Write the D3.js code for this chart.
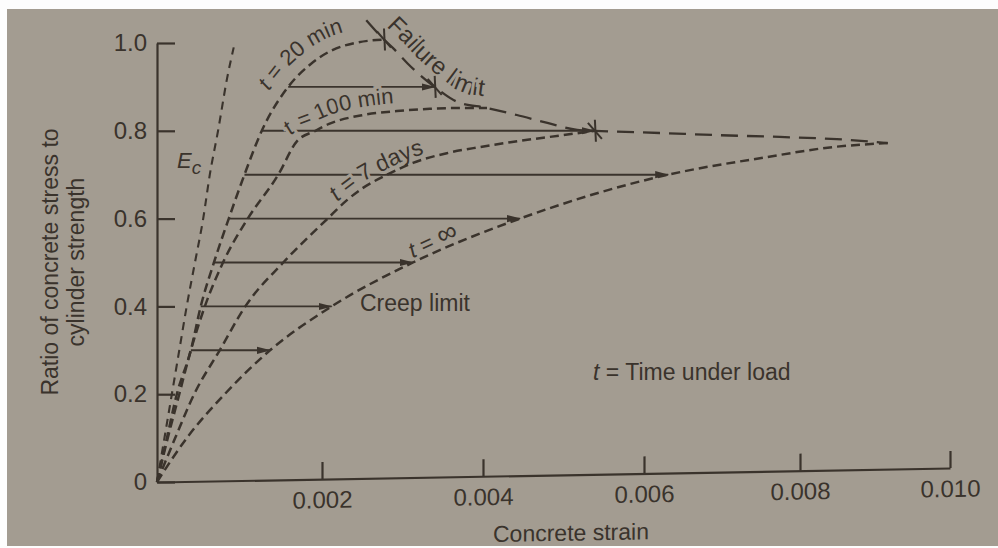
<!DOCTYPE html>
<html>
<head>
<meta charset="utf-8">
<script src="https://cdn.jsdelivr.net/npm/d3@7"></script>
<style>
  html, body { margin: 0; padding: 0; background: #fdfdfd; }
  svg { display: block; }
</style>
</head>
<body>
<svg id="chart" width="998" height="548"></svg>
<script>
// ---- axis ticks ----
const xTicks = [0.002, 0.004, 0.006, 0.008, 0.010];
const yTicks = [0, 0.2, 0.4, 0.6, 0.8, 1.0];

// ---- stress-strain curves: strain and stress/strength ratio ----
const ecStrain = [0, 0.00009, 0.00018, 0.00027, 0.00036, 0.00046, 0.00056, 0.00064, 0.00074, 0.00085, 0.00093];
const ecRatio  = [0, 0.1, 0.2, 0.3, 0.4, 0.5, 0.6, 0.7, 0.8, 0.92, 0.99];

const min20Strain = [0, 0.00012, 0.00024, 0.00041, 0.00053, 0.00069, 0.00087, 0.00106, 0.00127, 0.00159, 0.00185, 0.00213, 0.00241, 0.00277];
const min20Ratio  = [0, 0.1, 0.2, 0.3, 0.4, 0.5, 0.6, 0.7, 0.8, 0.9, 0.95, 0.984, 1.0, 1.008];

const min100Strain = [0, 0.00013, 0.00027, 0.00041, 0.00058, 0.0008, 0.0011, 0.00147, 0.0017, 0.00192, 0.00208, 0.00251, 0.00293, 0.00334, 0.00375, 0.00405];
const min100Ratio  = [0, 0.1, 0.2, 0.3, 0.4, 0.5, 0.6, 0.7, 0.777, 0.8, 0.815, 0.836, 0.845, 0.85, 0.852, 0.852];

const days7Strain = [0, 0.00022, 0.00045, 0.00076, 0.00107, 0.00153, 0.00207, 0.00231, 0.00251, 0.00281, 0.00313, 0.00355, 0.00396, 0.00434, 0.00499, 0.00539];
const days7Ratio  = [0, 0.1, 0.2, 0.3, 0.4, 0.5, 0.6, 0.642, 0.67, 0.7, 0.727, 0.749, 0.763, 0.774, 0.79, 0.8];

const infStrain = [0, 0.00036, 0.00082, 0.00137, 0.00212, 0.00313, 0.00446, 0.00631, 0.00757, 0.00844, 0.00917];
const infRatio  = [0, 0.1, 0.2, 0.3, 0.4, 0.5, 0.6, 0.7, 0.74, 0.763, 0.772];

// failure limit envelope
const failStrain = [0.00255, 0.00277, 0.00288, 0.00306, 0.0034, 0.00368, 0.00405, 0.00442, 0.0048, 0.00517, 0.00539, 0.0062, 0.00697, 0.00774, 0.00849, 0.00917];
const failRatio  = [1.052, 1.008, 0.989, 0.954, 0.9, 0.866, 0.852, 0.836, 0.818, 0.802, 0.8, 0.795, 0.79, 0.786, 0.781, 0.772];

// failure points marked with a cross
const failMarkStrain = [0.00277, 0.0034, 0.00539];
const failMarkRatio  = [1.008, 0.9, 0.8];

// creep at constant stress: from the 20 min curve to the limit
const creepLevel = [0.3, 0.4, 0.5, 0.6, 0.7, 0.8, 0.9];
const creepFrom  = [0.00041, 0.00053, 0.00069, 0.00087, 0.00106, 0.00127, 0.00159];
const creepTo    = [0.00137, 0.00212, 0.00313, 0.00446, 0.00631, 0.00539, 0.0034];

// ---- drawing ----
const W = 998, H = 548;
const ink = "#3a332c";
const paper = "#a39c91";
const FONT = "'Liberation Sans', Arial, Helvetica, sans-serif";

const svg = d3.select("#chart");
svg.append("rect").attr("width", W).attr("height", H).attr("fill", "#fdfdfd");
svg.append("rect").attr("x", 7).attr("y", 9).attr("width", W - 7).attr("height", H - 11).attr("fill", paper);

const x = d3.scaleLinear()
  .domain([0].concat(xTicks))
  .range([157, 322, 483, 644, 800, 950]);
const y = d3.scaleLinear().domain([0, 1]).range([482, 43]);

const defs = svg.append("defs");
defs.append("marker")
  .attr("id", "head")
  .attr("viewBox", "0 -5 14 10")
  .attr("refX", 13).attr("refY", 0)
  .attr("markerWidth", 14).attr("markerHeight", 10)
  .attr("markerUnits", "userSpaceOnUse")
  .attr("orient", "auto")
  .append("path").attr("d", "M0,-3.6L14,0L0,3.6Z").attr("fill", ink);

function styleAxis(g, size) {
  g.attr("font-family", null).attr("font-size", null);
  g.select(".domain").attr("stroke", ink).attr("stroke-width", 2.2);
  g.selectAll(".tick line").attr("stroke", ink).attr("stroke-width", 2.2);
  g.selectAll(".tick text").attr("fill", ink).attr("font-family", FONT).attr("font-size", size);
}

// y axis
const gy = svg.append("g").attr("transform", "translate(157,0)")
  .call(d3.axisLeft(y).tickValues(yTicks)
    .tickFormat(d => d === 0 ? "0" : d3.format(".1f")(d))
    .tickSizeInner(-18).tickSizeOuter(0).tickPadding(10));
styleAxis(gy, 24);

// x axis (baseline rises slightly towards the right)
const rise = 14 / 793;
const tilt = Math.atan(rise) * 180 / Math.PI;
const gx = svg.append("g")
  .attr("transform", `translate(0,${482 + 157 * rise}) skewY(${-tilt})`)
  .call(d3.axisBottom(x).tickValues(xTicks).tickFormat(d3.format(".3f"))
    .tickSizeInner(-17).tickSizeOuter(0).tickPadding(12));
styleAxis(gx, 24);
gx.append("text").attr("x", 571).attr("y", 66).attr("text-anchor", "middle")
  .attr("font-family", FONT).attr("font-size", 23).attr("fill", ink)
  .text("Concrete strain");

// y axis title
const yTitle = svg.append("text").attr("transform", "translate(0,262) rotate(-90)")
  .attr("text-anchor", "middle").attr("font-family", FONT).attr("font-size", 23).attr("fill", ink);
yTitle.append("tspan").attr("x", 0).attr("y", 58).text("Ratio of concrete stress to");
yTitle.append("tspan").attr("x", 0).attr("y", 84).text("cylinder strength");

const gArrows = svg.append("g");
const gLabels = svg.append("g");
const gCurves = svg.append("g");

const pairs = (s, r) => s.map((v, i) => [v, r[i]]);
const line = d3.line().x(d => x(d[0])).y(d => y(d[1])).curve(d3.curveMonotoneX);

// creep arrows
gArrows.selectAll("line").data(creepLevel).join("line")
  .attr("x1", (d, i) => x(creepFrom[i]))
  .attr("x2", (d, i) => x(creepTo[i]))
  .attr("y1", d => y(d)).attr("y2", d => y(d))
  .attr("stroke", ink).attr("stroke-width", 1.9)
  .attr("marker-end", "url(#head)");

// dashed curves
function curve(s, r, dash, width, id) {
  return gCurves.append("path").attr("id", id)
    .attr("d", line(pairs(s, r)))
    .attr("fill", "none").attr("stroke", ink)
    .attr("stroke-width", width).attr("stroke-dasharray", dash).node();
}
const ecNode   = curve(ecStrain, ecRatio, "8,6", 2.1, "c-ec");
const m20Node  = curve(min20Strain, min20Ratio, "9,5", 2.5, "c-20");
const m100Node = curve(min100Strain, min100Ratio, "9,5", 2.5, "c-100");
const d7Node   = curve(days7Strain, days7Ratio, "9,5", 2.5, "c-7d");
const infNode  = curve(infStrain, infRatio, "9,5", 2.5, "c-inf");
const failNode = curve(failStrain, failRatio, "17,9", 2.3, "c-fail");

// failure crosses
const marks = gCurves.selectAll("g.mark").data(failMarkStrain).join("g")
  .attr("class", "mark")
  .attr("transform", (d, i) => `translate(${x(d)},${y(failMarkRatio[i])})`);
marks.append("line").attr("x1", 0).attr("x2", 1).attr("y1", -11).attr("y2", 11)
  .attr("stroke", ink).attr("stroke-width", 2);
marks.append("line").attr("x1", -7).attr("x2", 7).attr("y1", -8).attr("y2", 8)
  .attr("stroke", ink).attr("stroke-width", 2);

// labels that follow a curve, lifted to its left side
let labelId = 0;
function labelAlong(node, startX, offset, parts, size) {
  const L = node.getTotalLength();
  const pts = [];
  for (let l = 0; l <= L; l += 2) { const p = node.getPointAtLength(l); pts.push([p.x, p.y]); }
  const shifted = pts.map((p, i) => {
    const a = pts[Math.max(0, i - 4)], b = pts[Math.min(pts.length - 1, i + 4)];
    const dx = b[0] - a[0], dy = b[1] - a[1], n = Math.hypot(dx, dy) || 1;
    return [p[0] + dy / n * offset, p[1] - dx / n * offset];
  });
  const k = shifted.findIndex(p => p[0] >= startX);
  const id = "lbl" + (labelId++);
  defs.append("path").attr("id", id).attr("d", d3.line()(shifted.slice(Math.max(0, k))));
  const tp = gLabels.append("text")
    .attr("font-family", FONT).attr("font-size", size).attr("fill", ink)
    .attr("stroke", paper).attr("stroke-width", 6).attr("paint-order", "stroke")
    .append("textPath").attr("href", "#" + id);
  parts.forEach(([txt, italic, fs]) => {
    tp.append("tspan").attr("font-style", italic ? "italic" : null)
      .attr("font-size", fs || null).text(txt);
  });
}

labelAlong(m20Node, 268, 13, [["t", true], [" = 20 min", false]], 22);
labelAlong(m100Node, 290, 8, [["t", true], [" = 100 min", false]], 22);
labelAlong(d7Node, 336, 5, [["t", true], [" = 7 days", false]], 23);
labelAlong(infNode, 411, 4, [["t", true], [" = ", false], ["\u221E", false, 28]], 22);
labelAlong(failNode, 386, 11, [["Failure limit", false]], 24);

// free labels
const ec = gLabels.append("text").attr("x", 177).attr("y", 168)
  .attr("font-family", FONT).attr("font-size", 22).attr("font-style", "italic").attr("fill", ink);
ec.append("tspan").text("E");
ec.append("tspan").attr("dy", 6).attr("font-size", 19).text("c");

gLabels.append("text").attr("x", 360).attr("y", 311)
  .attr("font-family", FONT).attr("font-size", 23).attr("fill", ink)
  .text("Creep limit");

const note = gLabels.append("text").attr("x", 593).attr("y", 380)
  .attr("font-family", FONT).attr("font-size", 23).attr("fill", ink);
note.append("tspan").attr("font-style", "italic").text("t");
note.append("tspan").text(" = Time under load");
</script>
</body>
</html>
